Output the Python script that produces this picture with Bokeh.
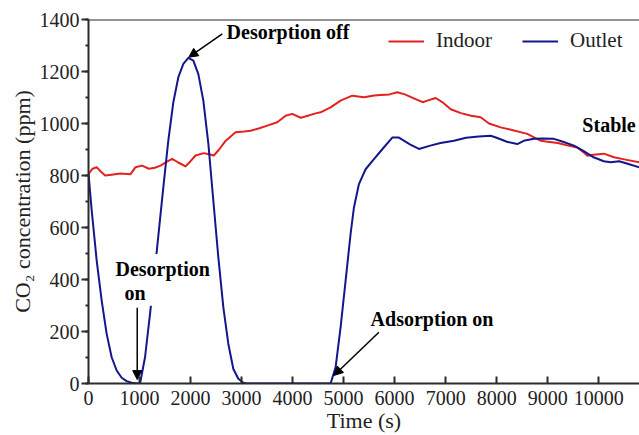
from bokeh.plotting import figure
from bokeh.models import (Range1d, SingleIntervalTicker, Label, Arrow, NormalHead,
                          Legend, LegendItem, Span, BoxAnnotation)
from bokeh.embed import file_html
from bokeh.resources import INLINE

# Time axis (s) and measured CO2 concentrations (ppm)
indoor_t = [0, 80, 161, 240, 327, 450, 627, 824, 922, 1050, 1183, 1300, 1412, 1530,
            1641, 1760, 1902, 2000, 2098, 2261, 2360, 2457, 2560, 2686, 2882, 3050,
            3176, 3350, 3503, 3700, 3863, 3994, 4157, 4300, 4451, 4549, 4745, 4941,
            5170, 5399, 5600, 5725, 5900, 6053, 6200, 6400, 6550, 6641, 6804, 6950,
            7100, 7300, 7500, 7686, 7850, 8078, 8300, 8602, 8750, 8863, 9000, 9200,
            9400, 9582, 9700, 9778, 9900, 10100, 10300, 10500, 10800]
indoor_ppm = [806, 826, 832, 815, 800, 803, 808, 805, 832, 838, 826, 830, 838, 852,
              864, 850, 835, 855, 877, 886, 882, 877, 900, 933, 966, 969,
              972, 982, 992, 1005, 1030, 1037, 1022, 1030, 1039, 1043, 1062, 1088,
              1107, 1101, 1108, 1110, 1112, 1120, 1112, 1095, 1082, 1088, 1098, 1080,
              1055, 1040, 1030, 1024, 1000, 985, 975, 960, 945, 934, 930, 925,
              915, 908, 890, 876, 880, 884, 870, 862, 851]

outlet_t = [0, 63, 161, 259, 356, 454, 552, 650, 748, 846, 970, 1010,
            1108, 1206, 1336, 1467, 1565, 1663, 1761, 1859, 1957, 2055, 2153,
            2251, 2350, 2447, 2545, 2643, 2741, 2839, 2937, 3035, 3100,
            4745, 4843, 4941, 5039, 5137, 5203, 5301, 5431, 5595, 5758, 5954,
            6085, 6300, 6477, 6700, 6900, 7163, 7400, 7650, 7882, 8000, 8200,
            8405, 8550, 8732, 8900, 9124, 9300, 9516, 9700, 9900, 10100, 10235,
            10400, 10600, 10800]
outlet_ppm = [806, 665, 472, 318, 191, 101, 50, 22, 9, 3, 0, 0,
              101, 268, 505, 755, 935, 1082, 1178, 1229, 1252, 1242, 1190,
              1088, 921, 703, 485, 293, 152, 56, 18, 3, 0,
              0, 62, 216, 395, 575, 677, 767, 824, 863, 901, 946,
              946, 920, 902, 915, 925, 934, 945, 950, 953, 945, 930,
              921, 935, 941, 942, 941, 930, 915, 895, 870, 855, 851,
              855, 843, 831]

SERIF = "Liberation Serif"
RED = "#e3211f"
BLUE = "#14168c"
AXIS = "#2b2b2b"

p = figure(width=639, height=435, output_backend="svg", toolbar_location=None,
           x_range=Range1d(0, 10800), y_range=Range1d(0, 1400),
           min_border_left=88, min_border_right=0, min_border_top=19,
           min_border_bottom=52)
p.outline_line_color = None
p.xgrid.visible = False
p.ygrid.visible = False

# top frame edge
p.add_layout(Span(location=1400, dimension="width", line_color=AXIS, line_width=2))

r_in = p.line(indoor_t, indoor_ppm, line_color=RED, line_width=2, line_join="round")
r_out = p.line(outlet_t, outlet_ppm, line_color=BLUE, line_width=2, line_join="round")

# axes
xa = p.xaxis[0]
xa.ticker = SingleIntervalTicker(interval=1000, num_minor_ticks=0)
xa.major_tick_in = 7
xa.major_tick_out = 0
xa.minor_tick_in = 0
xa.minor_tick_out = 0
xa.axis_label = "Time (s)"
xa.major_label_standoff = 7
xa.axis_label_standoff = 0

ya = p.yaxis[0]
ya.ticker = SingleIntervalTicker(interval=200, num_minor_ticks=2)
ya.major_tick_in = 0
ya.major_tick_out = 7
ya.minor_tick_in = 0
ya.minor_tick_out = 3
ya.axis_label = "CO\u2082 concentration (ppm)"
ya.major_label_standoff = 2
ya.axis_label_standoff = 2

for ax in (xa, ya):
    ax.axis_line_color = AXIS
    ax.axis_line_width = 2
    ax.major_tick_line_color = AXIS
    ax.major_tick_line_width = 2
    ax.minor_tick_line_color = AXIS
    ax.minor_tick_line_width = 2
    ax.major_label_text_font = SERIF
    ax.major_label_text_font_size = "20px"
    ax.major_label_text_color = "#222222"
    ax.axis_label_text_font = SERIF
    ax.axis_label_text_font_size = "22px"
    ax.axis_label_text_font_style = "normal"
    ax.axis_label_text_color = "#222222"

# legend
legend = Legend(items=[LegendItem(label="Indoor", renderers=[r_in]),
                       LegendItem(label="Outlet", renderers=[r_out])],
                orientation="horizontal", location=(300, 330),
                padding=0, margin=0, spacing=30, label_standoff=12,
                glyph_width=36, glyph_height=24, label_height=24,
                label_text_font=SERIF, label_text_font_size="21px",
                label_text_color="#222222",
                border_line_color=None, background_fill_alpha=0)
p.add_layout(legend)

# white knock-out behind the "Desorption on" note
p.add_layout(BoxAnnotation(left=1150, right=1500, bottom=299, top=498,
                           fill_color="white", fill_alpha=1, line_color=None))

# annotations
def note(x, y, text):
    p.add_layout(Label(x=x, y=y, text=text, text_font=SERIF, text_font_style="bold",
                       text_font_size="20px", text_color="black",
                       text_baseline="alphabetic"))

note(2706, 1352, "Desorption off")
note(9680, 995, "Stable")
note(529, 442, "Desorption")
note(706, 350, "on")
note(5529, 250, "Adsorption on")

def arrow(x0, y0, x1, y1):
    p.add_layout(Arrow(end=NormalHead(size=9, fill_color="black", line_color="black"),
                       x_start=x0, y_start=y0, x_end=x1, y_end=y1,
                       line_color="black", line_width=1.5))

arrow(2622, 1345, 1967, 1255)
arrow(955, 291, 955, 15)
arrow(5692, 197, 4810, 31)

open("out.html", "w").write(file_html(p, INLINE))
